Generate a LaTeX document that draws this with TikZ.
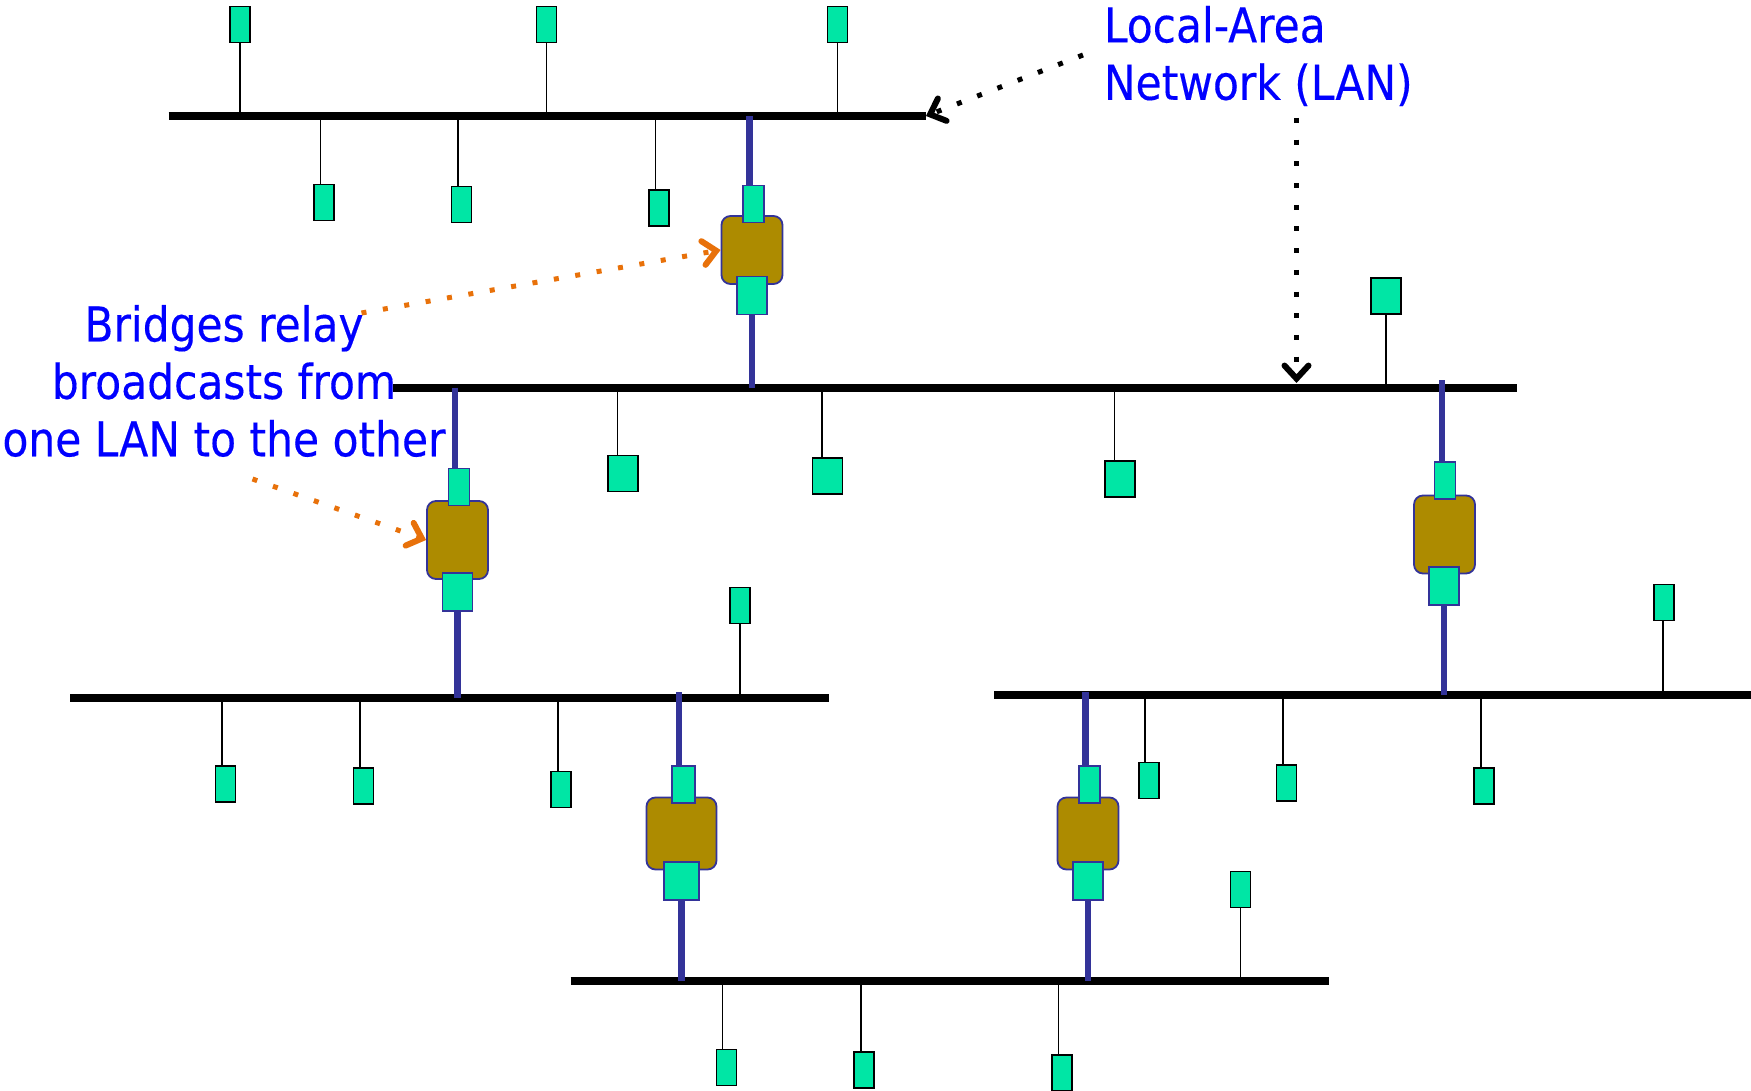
\documentclass[tikz,border=0pt]{standalone}
\usepackage{fontspec}
\setmainfont[FakeStretch=0.883,FakeBold=0.3]{DejaVu Sans}
\usetikzlibrary{arrows.meta}
\pgfdeclarelayer{edgelayer}
\pgfdeclarelayer{nodelayer}
\pgfsetlayers{edgelayer,nodelayer,main}
\definecolor{hostgreen}{RGB}{0,230,165}
\definecolor{bridgebrown}{RGB}{173,139,0}
\definecolor{linkblue}{RGB}{51,51,153}
\definecolor{notegold}{RGB}{232,113,10}
\tikzset{font=\fontsize{24}{28.7}\selectfont}
\tikzstyle{none}=[inner sep=0pt]
\tikzstyle{host}=[rectangle,fill=hostgreen,draw=black,line width=0.9pt,inner sep=0pt,minimum width=10pt,minimum height=18pt]
\tikzstyle{bighost}=[host,minimum width=15pt]
\tikzstyle{port}=[rectangle,fill=hostgreen,draw=linkblue,line width=0.9pt,inner sep=0pt,minimum width=10.5pt,minimum height=18.5pt]
\tikzstyle{bigport}=[port,minimum width=15pt,minimum height=19pt]
\tikzstyle{bridge}=[rectangle,rounded corners=4.5pt,fill=bridgebrown,draw=linkblue,line width=0.9pt,inner sep=0pt,minimum width=30.5pt,minimum height=36pt]
\tikzstyle{note}=[inner sep=0pt,text=blue]
\tikzstyle{bus}=[line width=4pt,black]
\tikzstyle{stub}=[line width=0.9pt,black]
\tikzstyle{link}=[line width=3.2pt,linkblue]
\tikzstyle{pointer}=[line width=2.5pt,dash pattern=on 2.5pt off 8.35pt,-{Straight Barb[length=6.5pt,width=12pt,line width=3pt,line cap=round]}]

\begin{document}
\begin{tikzpicture}[x=0.5pt,y=-0.5pt]
	\useasboundingbox (0,0) rectangle (1751,1091);
	\begin{pgfonlayer}{nodelayer}
		% LAN ends
		\node [style=none] (0) at (168.5, 116) {};
		\node [style=none] (1) at (926, 116) {};
		\node [style=none] (2) at (393, 387.5) {};
		\node [style=none] (3) at (1516.5, 387.5) {};
		\node [style=none] (4) at (70, 697.5) {};
		\node [style=none] (5) at (828.5, 697.5) {};
		\node [style=none] (6) at (994, 694.5) {};
		\node [style=none] (7) at (1751, 694.5) {};
		\node [style=none] (8) at (570.5, 981) {};
		\node [style=none] (9) at (1329, 981) {};
		% hosts on the top LAN
		\node [style=none] (10) at (240, 116) {};
		\node [style=host] (11) at (240, 24.5) {};
		\node [style=none] (12) at (546.5, 116) {};
		\node [style=host] (13) at (546.5, 24.5) {};
		\node [style=none] (14) at (837.5, 116) {};
		\node [style=host] (15) at (837.5, 24.5) {};
		\node [style=none] (16) at (320.5, 116) {};
		\node [style=host] (17) at (324, 202.5) {};
		\node [style=none] (18) at (458, 116) {};
		\node [style=host] (19) at (461.5, 204.5) {};
		\node [style=none] (20) at (655.5, 116) {};
		\node [style=host] (21) at (659, 208) {};
		% hosts on the middle LAN
		\node [style=none] (22) at (1386, 387.5) {};
		\node [style=bighost] (23) at (1386, 296) {};
		\node [style=none] (24) at (617.5, 387.5) {};
		\node [style=bighost] (25) at (623, 473.5) {};
		\node [style=none] (26) at (822, 387.5) {};
		\node [style=bighost] (27) at (827.5, 476) {};
		\node [style=none] (28) at (1114.5, 387.5) {};
		\node [style=bighost] (29) at (1120, 479) {};
		% hosts on the left LAN
		\node [style=none] (30) at (740, 697.5) {};
		\node [style=host] (31) at (740, 605.5) {};
		\node [style=none] (32) at (222, 697.5) {};
		\node [style=host] (33) at (225.5, 784) {};
		\node [style=none] (34) at (360, 697.5) {};
		\node [style=host] (35) at (363.5, 786) {};
		\node [style=none] (36) at (558, 697.5) {};
		\node [style=host] (37) at (561, 789.5) {};
		% hosts on the right LAN
		\node [style=none] (38) at (1663, 694.5) {};
		\node [style=host] (39) at (1664, 602.5) {};
		\node [style=none] (40) at (1145, 694.5) {};
		\node [style=host] (41) at (1149, 780.5) {};
		\node [style=none] (42) at (1283, 694.5) {};
		\node [style=host] (43) at (1286.5, 783) {};
		\node [style=none] (44) at (1481, 694.5) {};
		\node [style=host] (45) at (1484, 786) {};
		% hosts on the bottom LAN
		\node [style=none] (46) at (1240.5, 981) {};
		\node [style=host] (47) at (1240.5, 889.5) {};
		\node [style=none] (48) at (722.5, 981) {};
		\node [style=host] (49) at (726.5, 1067.5) {};
		\node [style=none] (50) at (861, 981) {};
		\node [style=host] (51) at (864, 1070) {};
		\node [style=none] (52) at (1058.5, 981) {};
		\node [style=host] (53) at (1062, 1073) {};
		% bridges
		\node [style=bridge,minimum height=34pt] (54) at (752, 250) {};
		\node [style=port] (55) at (753.5, 204) {};
		\node [style=bigport] (56) at (752, 295.5) {};
		\node [style=none] (57) at (749.5, 116) {};
		\node [style=none] (58) at (752, 387.5) {};
		\node [style=bridge,minimum height=39pt] (59) at (457.5, 540) {};
		\node [style=port] (60) at (459, 487) {};
		\node [style=bigport] (61) at (457.5, 592) {};
		\node [style=none] (62) at (455, 387.5) {};
		\node [style=none] (63) at (457.5, 697.5) {};
		\node [style=bridge,minimum height=39pt] (64) at (1444.5, 534.5) {};
		\node [style=port] (65) at (1445, 480.5) {};
		\node [style=bigport] (66) at (1444, 586) {};
		\node [style=none] (67) at (1442, 380) {};
		\node [style=none] (68) at (1444, 694.5) {};
		\node [style=bridge,minimum width=35pt] (69) at (681.5, 833.5) {};
		\node [style=port,minimum width=11.5pt] (70) at (683.5, 784.5) {};
		\node [style=bigport,minimum width=17.5pt] (71) at (681.5, 881) {};
		\node [style=none] (72) at (679, 692) {};
		\node [style=none] (73) at (681.5, 981) {};
		\node [style=bridge] (74) at (1088, 833.5) {};
		\node [style=port] (75) at (1089.5, 784.5) {};
		\node [style=bigport] (76) at (1088, 881) {};
		\node [style=none] (77) at (1085.5, 692) {};
		\node [style=none] (78) at (1088, 981) {};
		% notes
		\node [style=note,align=left,anchor=west] (79) at (1103.5, 56) {Local-Area\\Network (LAN)};
		\node [style=note,align=center] (80) at (224, 381) {Bridges relay\\broadcasts from\\one LAN to the other};
		\node [style=none] (81) at (1083, 55) {};
		\node [style=none] (82) at (1296.5, 118) {};
		\node [style=none] (83) at (1296.5, 383) {};
		\node [style=none] (84) at (361.5, 313) {};
		\node [style=none] (85) at (252.5, 479) {};
	\end{pgfonlayer}
	\begin{pgfonlayer}{edgelayer}
		\draw [style=bus] (0.center) to (1.center);
		\draw [style=bus] (2.center) to (3.center);
		\draw [style=bus] (4.center) to (5.center);
		\draw [style=bus] (6.center) to (7.center);
		\draw [style=bus] (8.center) to (9.center);
		\draw [style=stub] (10.center) to (10.center |- 11.south);
		\draw [style=stub] (12.center) to (12.center |- 13.south);
		\draw [style=stub] (14.center) to (14.center |- 15.south);
		\draw [style=stub] (16.center) to (16.center |- 17.north);
		\draw [style=stub] (18.center) to (18.center |- 19.north);
		\draw [style=stub] (20.center) to (20.center |- 21.north);
		\draw [style=stub] (22.center) to (22.center |- 23.south);
		\draw [style=stub] (24.center) to (24.center |- 25.north);
		\draw [style=stub] (26.center) to (26.center |- 27.north);
		\draw [style=stub] (28.center) to (28.center |- 29.north);
		\draw [style=stub] (30.center) to (30.center |- 31.south);
		\draw [style=stub] (32.center) to (32.center |- 33.north);
		\draw [style=stub] (34.center) to (34.center |- 35.north);
		\draw [style=stub] (36.center) to (36.center |- 37.north);
		\draw [style=stub] (38.center) to (38.center |- 39.south);
		\draw [style=stub] (40.center) to (40.center |- 41.north);
		\draw [style=stub] (42.center) to (42.center |- 43.north);
		\draw [style=stub] (44.center) to (44.center |- 45.north);
		\draw [style=stub] (46.center) to (46.center |- 47.south);
		\draw [style=stub] (48.center) to (48.center |- 49.north);
		\draw [style=stub] (50.center) to (50.center |- 51.north);
		\draw [style=stub] (52.center) to (52.center |- 53.north);
		\draw [style=link] (57.center) to (57.center |- 55.north);
		\draw [style=link] (58.center) to (58.center |- 56.south);
		\draw [style=link] (62.center) to (62.center |- 60.north);
		\draw [style=link] (63.center) to (63.center |- 61.south);
		\draw [style=link] (67.center) to (67.center |- 65.north);
		\draw [style=link] (68.center) to (68.center |- 66.south);
		\draw [style=link] (72.center) to (72.center |- 70.north);
		\draw [style=link] (73.center) to (73.center |- 71.south);
		\draw [style=link] (77.center) to (77.center |- 75.north);
		\draw [style=link] (78.center) to (78.center |- 76.south);
	\end{pgfonlayer}
	\draw [style=pointer] (81.center) to (1.center);
	\draw [style=pointer] (82.center) to (83.center);
	\draw [style=pointer,notegold] (84.center) to (54.west);
	\draw [style=pointer,notegold] (85.center) to (59.west);
\end{tikzpicture}
\end{document}
